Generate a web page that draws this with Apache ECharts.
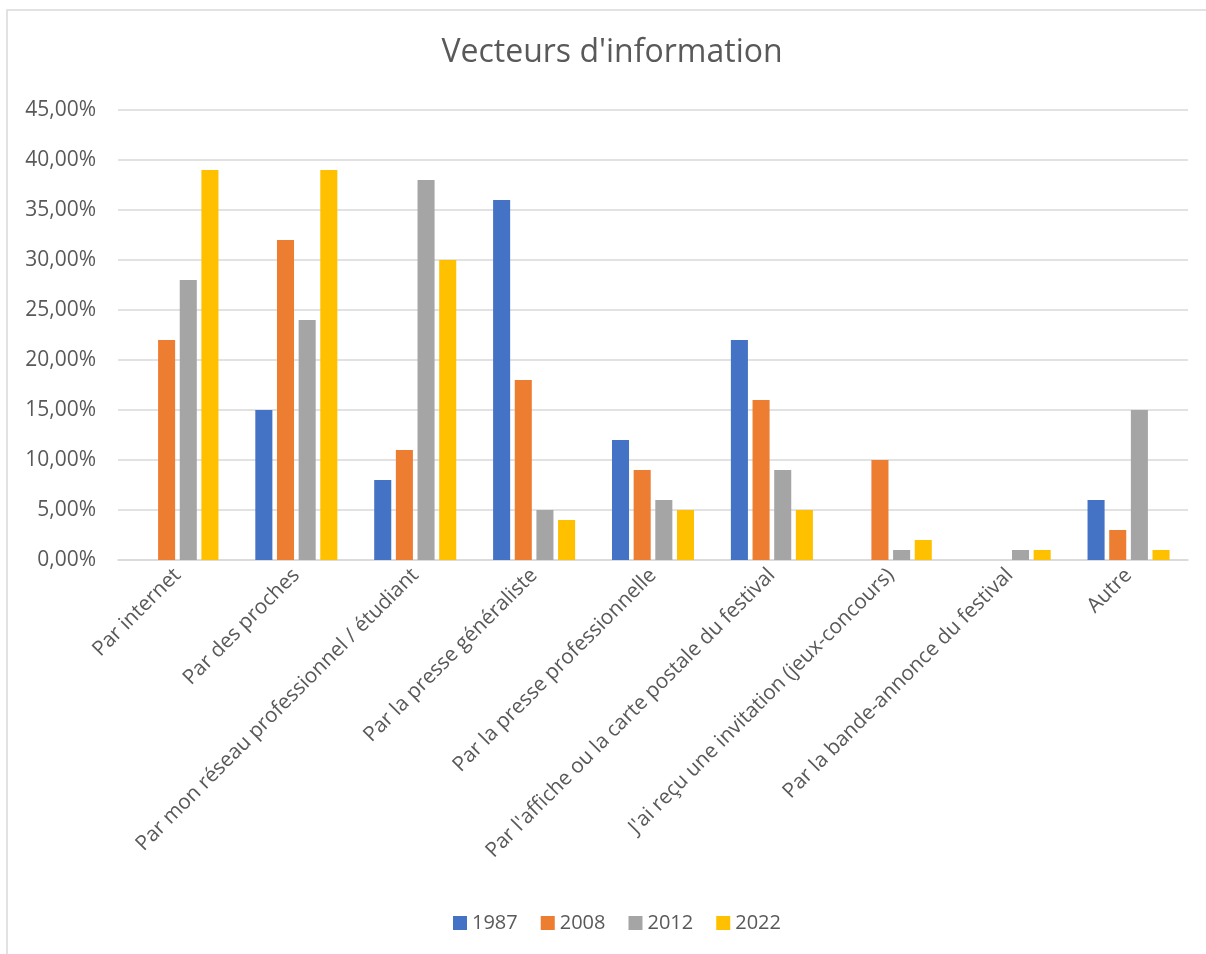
<!DOCTYPE html>
<html><head><meta charset="utf-8">
<script src="https://cdn.jsdelivr.net/npm/echarts@6/dist/echarts.min.js"></script>
<style>html,body{margin:0;padding:0;background:#fff;}#c{width:1206px;height:954px;}</style>
</head><body><div id="c"></div>
<script>
const categories = ["Par internet","Par des proches","Par mon réseau professionnel / étudiant","Par la presse généraliste","Par la presse professionnelle","Par l'affiche ou la carte postale du festival","J'ai reçu une invitation (jeux-concours)","Par la bande-annonce du festival","Autre"];
const seriesNames = ["1987","2008","2012","2022"];
const v1987 = [0,15,8,36,12,22,0,0,6];
const v2008 = [22,32,11,18,9,16,10,0,3];
const v2012 = [28,24,38,5,6,9,1,1,15];
const v2022 = [39,39,30,4,5,5,2,1,1];
const colors = ["#4472C4","#ED7D31","#A5A5A5","#FFC000"];
const allValues = [v1987,v2008,v2012,v2022];
const font = "'Open Sans', sans-serif";
const chart = echarts.init(document.getElementById('c'));
chart.setOption({
  animation:false,
  graphic:[{type:'rect',shape:{x:7,y:10,width:1400,height:1200},style:{fill:'none',stroke:'#d9d9d9',lineWidth:1.5},silent:true}],
  title:{text:"Vecteurs d'information",left:607,top:32,textAlign:'center',textStyle:{fontFamily:font,fontSize:32,fontWeight:'normal',color:'#595959'}},
  legend:{bottom:16,left:448,itemWidth:14,itemHeight:14,itemGap:23,icon:'rect',data:seriesNames,textStyle:{fontFamily:font,fontSize:20,color:'#595959'}},
  grid:{left:118,right:18,top:110,bottom:394,containLabel:false},
  xAxis:{type:'category',data:categories,axisTick:{show:false},axisLine:{lineStyle:{color:'#d9d9d9',width:1.5}},
    axisLabel:{rotate:45,interval:0,fontFamily:font,fontSize:20.7,color:'#595959',margin:12}},
  yAxis:{type:'value',min:0,max:45,interval:5,axisLine:{show:false},axisTick:{show:false},
    splitLine:{lineStyle:{color:'#d9d9d9',width:1.5}},
    axisLabel:{fontFamily:font,fontSize:21,color:'#595959',margin:22,formatter:v=>v.toFixed(2).replace('.',',')+'%'}},
  series: seriesNames.map((n,i)=>({name:n,type:'bar',data:allValues[i],barGap:'27%',barCategoryGap:'31%',
    itemStyle:{color:colors[i]}}))
});
</script></body></html>
